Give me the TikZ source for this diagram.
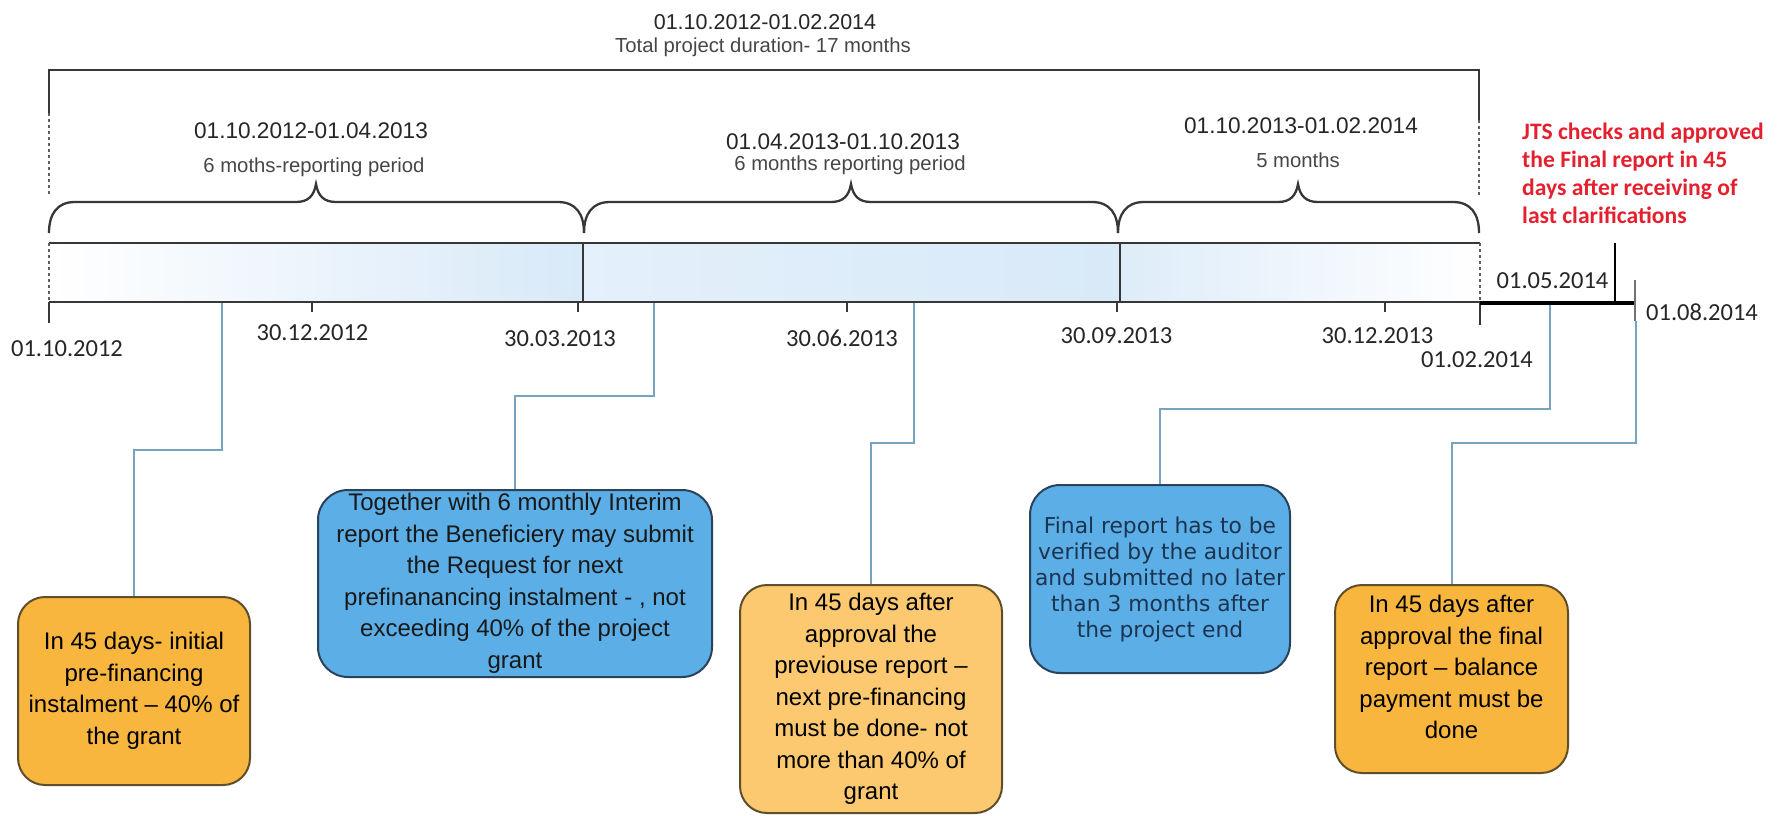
\documentclass[tikz,border=0pt]{standalone}
\usepackage{fontspec}
\setmainfont{Liberation Sans}
\newfontfamily\calfont{Carlito}
\newfontfamily\verfont{DejaVu Sans}
\usetikzlibrary{calc}
\definecolor{linec}{RGB}{55,55,55}
\definecolor{conn}{RGB}{120,163,192}
\definecolor{orA}{RGB}{248,182,62}
\definecolor{orB}{RGB}{252,201,112}
\definecolor{blA}{RGB}{91,174,230}
\definecolor{obord}{RGB}{95,78,42}
\definecolor{bbord}{RGB}{42,66,92}
\definecolor{barblue}{RGB}{216,233,248}
\definecolor{barmid}{RGB}{228,240,251}
\definecolor{jtsred}{RGB}{228,32,46}
\definecolor{navytext}{RGB}{28,52,80}
\definecolor{subgray}{RGB}{70,70,70}
\tikzset{
  box/.style={rounded corners=27pt, line width=2pt, inner sep=0pt, align=center,
    font=\fontsize{24}{31.5}\selectfont},
  obox/.style={box, draw=obord, fill=orA},
  bbox/.style={box, draw=bbord, fill=blA, rounded corners=30pt},
  btxt/.style={inner sep=0pt, align=center, font=\fontsize{24}{31.5}\selectfont},
  connector/.style={draw=conn, line width=2pt},
  datelbl/.style={font=\calfont\fontsize{24.5}{28}\selectfont, text=black!85, anchor=base, inner sep=0pt},
  perlbl/.style={font=\fontsize{22.6}{26}\selectfont, text=black!85, anchor=base, inner sep=0pt},
  sublbl/.style={font=\fontsize{20.3}{24}\selectfont, text=subgray, anchor=base, inner sep=0pt},
  jtslbl/.style={font=\calfont\bfseries\fontsize{23.6}{28}\selectfont, text=jtsred, anchor=base west, inner sep=0pt},
  bracket/.style={draw=linec, line width=2.5pt},
  dashv/.style={draw=linec!80, line width=1.5pt, dashed},
  tickline/.style={draw=linec, line width=1.6pt},
}
\begin{document}
\begin{tikzpicture}[x=1pt,y=-1pt]
\useasboundingbox (0,0) rectangle (1783,815);

% ---- top texts ----
\node[font=\fontsize{21.5}{26}\selectfont, text=black!85, anchor=base, inner sep=0pt] (title) at (765,29) {01.10.2012-01.02.2014};
\node[sublbl] (total) at (763,52) {Total project duration- 17 months};

\node[perlbl] (p1) at (311,138) {01.10.2012-01.04.2013};
\node[sublbl] (p1s) at (314,172) {6 moths-reporting period};
\node[perlbl] (p2) at (843,149) {01.04.2013-01.10.2013};
\node[sublbl] (p2s) at (850,170) {6 months reporting period};
\node[perlbl] (p3) at (1301,133) {01.10.2013-01.02.2014};
\node[sublbl] (p3s) at (1298,167) {5 months};

\node[jtslbl] (j1) at (1522,139) {JTS checks and approved};
\node[jtslbl] (j2) at (1522,167) {the Final report in 45};
\node[jtslbl] (j3) at (1522,195) {days after receiving of};
\node[jtslbl] (j4) at (1522,223) {last clarifications};

% ---- top bracket ----
\draw[bracket] (49,113) -- (49,70) -- (1479,70) -- (1479,120);
\draw[dashv] (49,113) -- (49,196);
\draw[dashv] (1479,120) -- (1479,197);

% ---- braces ----
\foreach \xa/\xc/\xb in {49/316/584, 584/851/1118, 1118/1298/1479}{
  \draw[draw=linec, line width=2.3pt]
    (\xa,233) .. controls (\xa,214) and (\xa+8,202) .. (\xa+26,202)
    -- (\xc-20,202) .. controls (\xc-8,202) and (\xc-2,196) .. (\xc,184)
    .. controls (\xc+2,196) and (\xc+8,202) .. (\xc+20,202)
    -- (\xb-26,202) .. controls (\xb-8,202) and (\xb,214) .. (\xb,233);
}

% ---- bar ----
\shade[left color=white, right color=barblue] (49,243) rectangle (583,302);
\shade[left color=barmid, right color=barblue] (583,243) rectangle (1120,302);
\shade[left color=barblue!85!white, right color=white] (1120,243) rectangle (1480,302);
\draw[draw=linec, line width=2pt] (49,243) -- (1480,243);
\draw[draw=linec, line width=2pt] (49,302) -- (1480,302);
\draw[dashv, line width=1.2pt] (49,243) -- (49,302);
\draw[dashv, line width=1.2pt] (1480,243) -- (1480,302);
\draw[tickline] (583,243) -- (583,302);
\draw[tickline] (1120,243) -- (1120,302);

% ticks
\draw[tickline] (49,302) -- (49,323);
\draw[tickline] (312,302) -- (312,312);
\draw[tickline] (578,302) -- (578,312);
\draw[tickline] (847,302) -- (847,312);
\draw[tickline] (1117,302) -- (1117,312);
\draw[tickline] (1385,302) -- (1385,312);
\draw[tickline] (1480,302) -- (1480,325);
\draw[draw=black, line width=4pt] (1480,303) -- (1636,303);
\draw[draw=black, line width=1.8pt] (1615,243) -- (1615,301);
\draw[draw=black!55, line width=2pt] (1635,280) -- (1635,321);

% ---- date labels ----
\node[datelbl] (d1) at (67,356) {01.10.2012};
\node[datelbl] (d2) at (312.5,340) {30.12.2012};
\node[datelbl] (d3) at (560,346) {30.03.2013};
\node[datelbl] (d4) at (842,346) {30.06.2013};
\node[datelbl] (d5) at (1116.5,343) {30.09.2013};
\node[datelbl] (d6) at (1377.5,343) {30.12.2013};
\node[datelbl] (d7) at (1477,367) {01.02.2014};
\node[datelbl] (d8) at (1552.5,288) {01.05.2014};
\node[datelbl] (d9) at (1702,320) {01.08.2014};

% ---- boxes ----
\node[obox, minimum width=232pt, minimum height=188pt] (b1) at (134,691)
  {In 45 days- initial\\pre-financing\\instalment – 40\% of\\the grant};
\node[bbox, minimum width=394pt, minimum height=187pt, text=black!90] (b2) at (515,583.5)
  {Together with 6 monthly Interim\\report the Beneficiery may submit\\the Request for next\\prefinanancing instalment - , not\\exceeding 40\% of the project\\grant};
\node[obox, fill=orB, minimum width=262pt, minimum height=228pt] (b3) at (871,699)
  {In 45 days after\\approval the\\previouse report –\\next pre-financing\\must be done- not\\more than 40\% of\\grant};
\node[bbox, minimum width=260pt, minimum height=188pt, text=navytext,
      font=\verfont\fontsize{21.8}{26}\selectfont] (b4) at (1160,579)
  {Final report has to be\\verified by the auditor\\and submitted no later\\than 3 months after\\the project end};
\node[obox, minimum width=233pt, minimum height=188pt] (b5) at (1451.5,679) {};
\node[btxt] (b5t) at (1451.5,667)
  {In 45 days after\\approval the final\\report – balance\\payment must be\\done};

% ---- connectors ----
\coordinate (a1) at (222,303);
\coordinate (a2) at (654,303);
\coordinate (a3) at (914,303);
\coordinate (a4) at (1550,305);
\coordinate (a5) at (1636,321);
\draw[connector] (a1) -- ++(0,147) -| (b1.north);
\draw[connector] (a2) -- ++(0,93) -| (b2.north);
\draw[connector] (a3) -- ++(0,140) -| (b3.north);
\draw[connector] (a4) -- ++(0,104) -| (b4.north);
\draw[connector] (a5) -- ++(0,122) -| (b5.north);
\end{tikzpicture}
\end{document}
